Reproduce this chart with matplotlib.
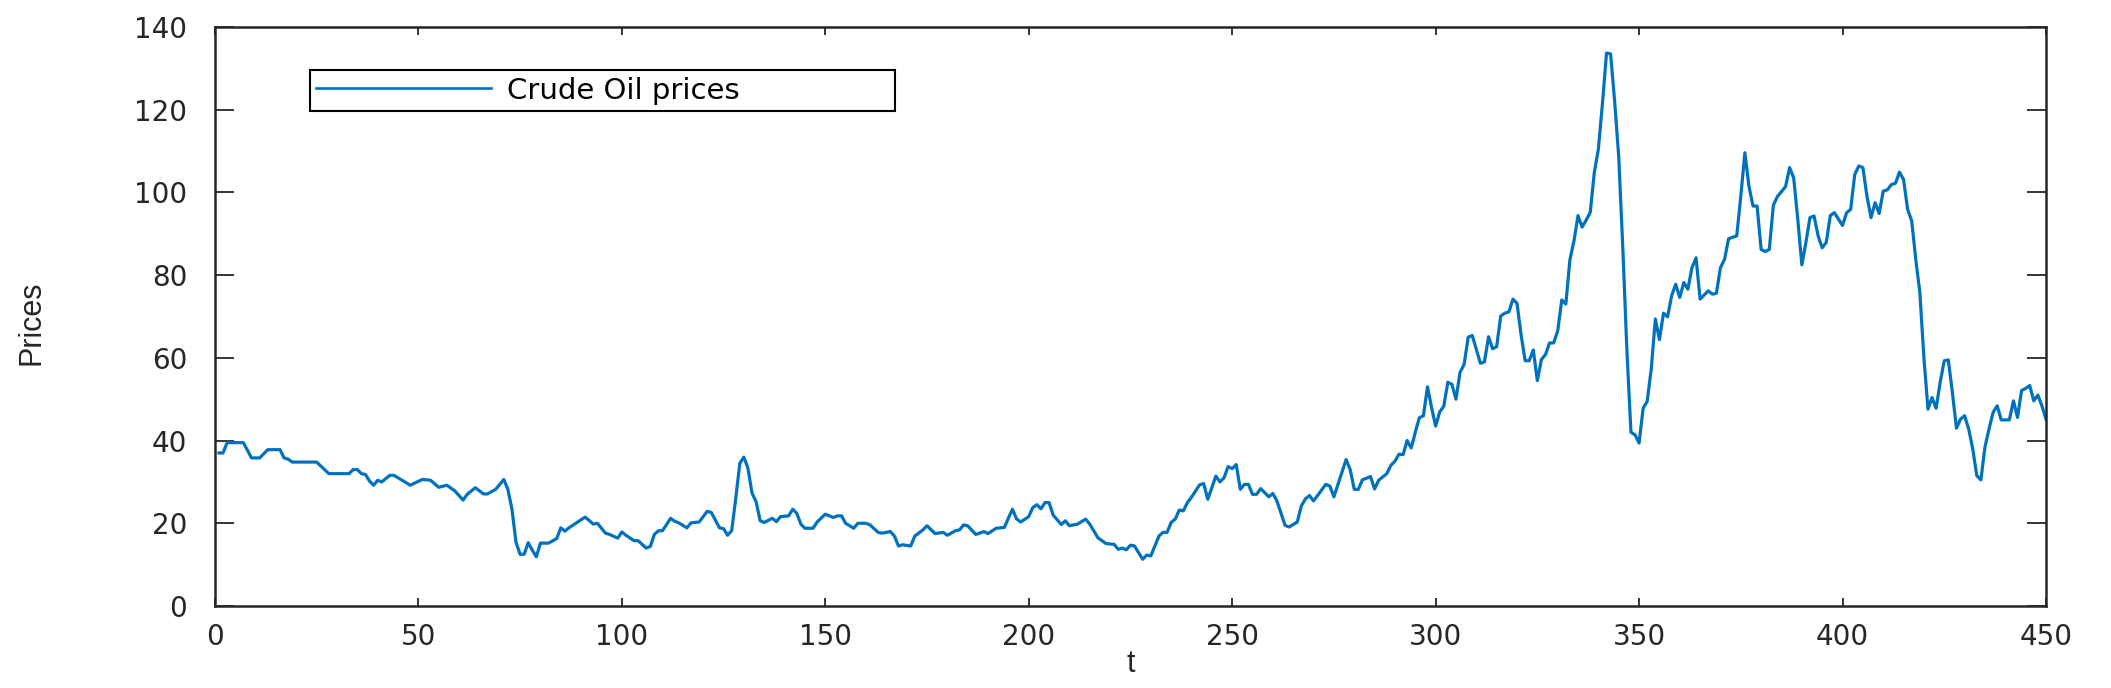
import matplotlib
matplotlib.use("Agg")
import matplotlib.pyplot as plt

# monthly crude oil prices (t index, price)
t = [
    1, 2, 3, 7, 9, 11, 13, 16, 17, 18, 19, 25, 28, 33, 34, 35, 36, 37, 38, 39,
    40, 41, 43, 44, 46, 48, 51, 53, 55, 57, 59, 61, 62, 64, 66, 67, 69, 71, 72, 73,
    74, 75, 76, 77, 78, 79, 80, 82, 84, 85, 86, 87, 89, 91, 93, 94, 96, 97, 99, 100,
    101, 103, 104, 106, 107, 108, 109, 110, 112, 113, 114, 116, 117, 119, 121, 122, 124, 125, 126, 127,
    128, 129, 130, 131, 132, 133, 134, 135, 137, 138, 139, 141, 142, 143, 144, 145, 147, 148, 150, 152,
    153, 154, 155, 157, 158, 160, 161, 163, 164, 166, 167, 168, 169, 171, 172, 174, 175, 177, 179, 180,
    182, 183, 184, 185, 187, 189, 190, 192, 194, 196, 197, 198, 200, 201, 202, 203, 204, 205, 206, 208,
    209, 210, 212, 214, 215, 217, 219, 221, 222, 223, 224, 225, 226, 228, 229, 230, 232, 233, 234, 235,
    236, 237, 238, 239, 240, 242, 243, 244, 246, 247, 248, 249, 250, 251, 252, 253, 254, 255, 256, 257,
    259, 260, 261, 263, 264, 266, 267, 268, 269, 270, 273, 274, 275, 278, 279, 280, 281, 282, 284, 285,
    286, 288, 289, 290, 291, 292, 293, 294, 295, 296, 297, 298, 299, 300, 301, 302, 303, 304, 305, 306,
    307, 308, 309, 311, 312, 313, 314, 315, 316, 317, 318, 319, 320, 321, 322, 323, 324, 325, 326, 327,
    328, 329, 330, 331, 332, 333, 334, 335, 336, 337, 338, 339, 340, 341, 342, 343, 344, 345, 346, 347,
    348, 349, 350, 351, 352, 353, 354, 355, 356, 357, 358, 359, 360, 361, 362, 363, 364, 365, 367, 368,
    369, 370, 371, 372, 374, 375, 376, 377, 378, 379, 380, 381, 382, 383, 384, 386, 387, 388, 389, 390,
    391, 392, 393, 394, 395, 396, 397, 398, 400, 401, 402, 403, 404, 405, 406, 407, 408, 409, 410, 411,
    412, 413, 414, 415, 416, 417, 418, 419, 420, 421, 422, 423, 424, 425, 426, 427, 428, 429, 430, 431,
    432, 433, 434, 435, 436, 437, 438, 439, 441, 442, 443, 444, 445, 446, 447, 448, 449, 450,
]
prices = [
    37.0, 37.0, 39.5, 39.5, 35.8, 35.8, 37.8, 37.8, 35.8, 35.5, 34.8, 34.8, 32.0, 32.0, 33.0, 33.0, 32.0, 31.8, 30.2, 29.2,
    30.4, 30.0, 31.6, 31.6, 30.4, 29.2, 30.6, 30.4, 28.7, 29.2, 27.8, 25.6, 27.0, 28.6, 27.1, 27.1, 28.2, 30.6, 28.2, 23.4,
    15.4, 12.5, 12.5, 15.3, 13.5, 11.9, 15.2, 15.2, 16.3, 18.9, 18.1, 18.9, 20.2, 21.5, 19.8, 20.0, 17.6, 17.3, 16.4, 17.9,
    17.1, 15.8, 15.8, 14.0, 14.4, 17.3, 18.2, 18.2, 21.2, 20.5, 20.1, 18.9, 20.1, 20.3, 22.9, 22.6, 18.9, 18.7, 17.1, 18.2,
    26.0, 34.5, 36.0, 33.3, 27.3, 25.2, 20.6, 20.2, 21.2, 20.4, 21.6, 21.8, 23.4, 22.4, 19.8, 18.8, 18.8, 20.3, 22.2, 21.4,
    21.8, 21.8, 20.0, 18.8, 20.0, 20.0, 19.6, 17.8, 17.6, 18.0, 16.9, 14.5, 14.8, 14.5, 16.9, 18.4, 19.4, 17.5, 17.8, 17.1,
    18.2, 18.4, 19.6, 19.4, 17.3, 18.0, 17.5, 18.8, 19.0, 23.4, 21.1, 20.3, 21.6, 23.8, 24.5, 23.5, 25.0, 25.0, 22.0, 19.7,
    20.6, 19.4, 19.8, 21.0, 19.8, 16.5, 15.1, 14.9, 13.7, 14.0, 13.6, 14.7, 14.5, 11.3, 12.3, 12.1, 16.9, 17.8, 17.8, 20.2,
    21.0, 23.2, 23.0, 25.0, 26.3, 29.3, 29.6, 25.8, 31.4, 30.0, 31.0, 33.7, 33.2, 34.2, 28.2, 29.4, 29.4, 27.0, 27.0, 28.4,
    26.4, 27.2, 25.4, 19.5, 19.1, 20.3, 24.2, 25.9, 26.7, 25.4, 29.4, 29.0, 26.4, 35.4, 33.0, 28.2, 28.2, 30.5, 31.3, 28.3,
    30.4, 32.0, 34.0, 35.0, 36.7, 36.6, 40.0, 38.2, 42.0, 45.5, 46.0, 53.0, 48.0, 43.5, 46.9, 48.3, 54.1, 53.6, 50.0, 56.5,
    58.4, 65.0, 65.4, 58.7, 59.0, 65.1, 62.2, 62.7, 70.1, 70.8, 71.1, 74.2, 73.2, 65.6, 59.3, 59.3, 61.9, 54.5, 59.6, 60.8,
    63.6, 63.6, 66.5, 74.0, 73.0, 83.7, 88.3, 94.4, 91.6, 93.3, 95.2, 104.8, 110.5, 121.5, 133.7, 133.5, 122.0, 108.6, 86.6, 62.0,
    42.0, 41.4, 39.4, 47.8, 49.5, 57.4, 69.4, 64.4, 70.8, 69.9, 75.0, 77.8, 74.6, 78.2, 76.6, 81.8, 84.2, 74.2, 76.2, 75.4,
    75.6, 81.8, 83.8, 88.8, 89.5, 99.1, 109.6, 101.5, 96.7, 96.7, 86.2, 85.7, 86.2, 96.9, 99.0, 101.4, 106.0, 103.5, 93.5, 82.5,
    87.9, 93.9, 94.3, 89.5, 86.6, 87.9, 94.4, 95.1, 92.0, 95.1, 95.9, 104.3, 106.4, 106.0, 99.1, 93.9, 97.5, 94.9, 100.3, 100.6,
    101.9, 102.2, 104.9, 103.1, 95.9, 93.1, 83.8, 75.8, 60.0, 47.6, 50.4, 47.8, 54.1, 59.3, 59.5, 51.6, 43.0, 45.2, 46.0, 42.8,
    38.0, 31.5, 30.5, 38.4, 42.8, 46.8, 48.4, 45.0, 45.0, 49.6, 45.6, 52.1, 52.6, 53.3, 49.6, 51.0, 48.4, 45.2,
]

x_ticks = list(range(0, 451, 50))
y_ticks = list(range(0, 141, 20))

AXIS_COLOR = "#262626"
LINE_COLOR = "#0072BD"

fig = plt.figure(figsize=(21.11, 6.88), dpi=100)
ax = fig.add_axes([0.1018, 0.1192, 0.8674, 0.8416])

ax.plot(t, prices, color=LINE_COLOR, linewidth=2.3, label="Crude Oil prices")

ax.set_xlim(0, 450)
ax.set_ylim(0, 140)
ax.set_xticks(x_ticks)
ax.set_yticks(y_ticks)

for side in ["left", "right", "top", "bottom"]:
    ax.spines[side].set_linewidth(1.8)
    ax.spines[side].set_color(AXIS_COLOR)

ax.tick_params(axis="x", direction="in", length=6, width=1.3, top=True,
               color=AXIS_COLOR, labelcolor=AXIS_COLOR, pad=12)
ax.tick_params(axis="y", direction="in", length=14, width=1.3, right=True,
               color=AXIS_COLOR, labelcolor=AXIS_COLOR, pad=20)

for lbl in ax.get_xticklabels() + ax.get_yticklabels():
    lbl.set_family("DejaVu Sans")
    lbl.set_fontsize(20)

ax.set_xlabel("t", family="Liberation Sans", fontsize=22, color=AXIS_COLOR)
ax.xaxis.set_label_coords(0.5, -0.074)
ax.set_ylabel("Prices", family="Liberation Sans", fontsize=22, color=AXIS_COLOR)
ax.yaxis.set_label_coords(-0.092, 0.49)

leg = ax.legend(loc="upper left", bbox_to_anchor=(0.0519, 0.865, 0.3195, 0.0604),
                mode="expand", borderaxespad=0, fancybox=False, edgecolor="k",
                framealpha=1, handlelength=6.0, borderpad=0.22, handletextpad=0.55,
                prop={"family": "DejaVu Sans", "size": 21})
leg.get_frame().set_linewidth(1.5)
leg.get_lines()[0].set_linewidth(1.9)

fig.savefig("out.png", dpi=100)
